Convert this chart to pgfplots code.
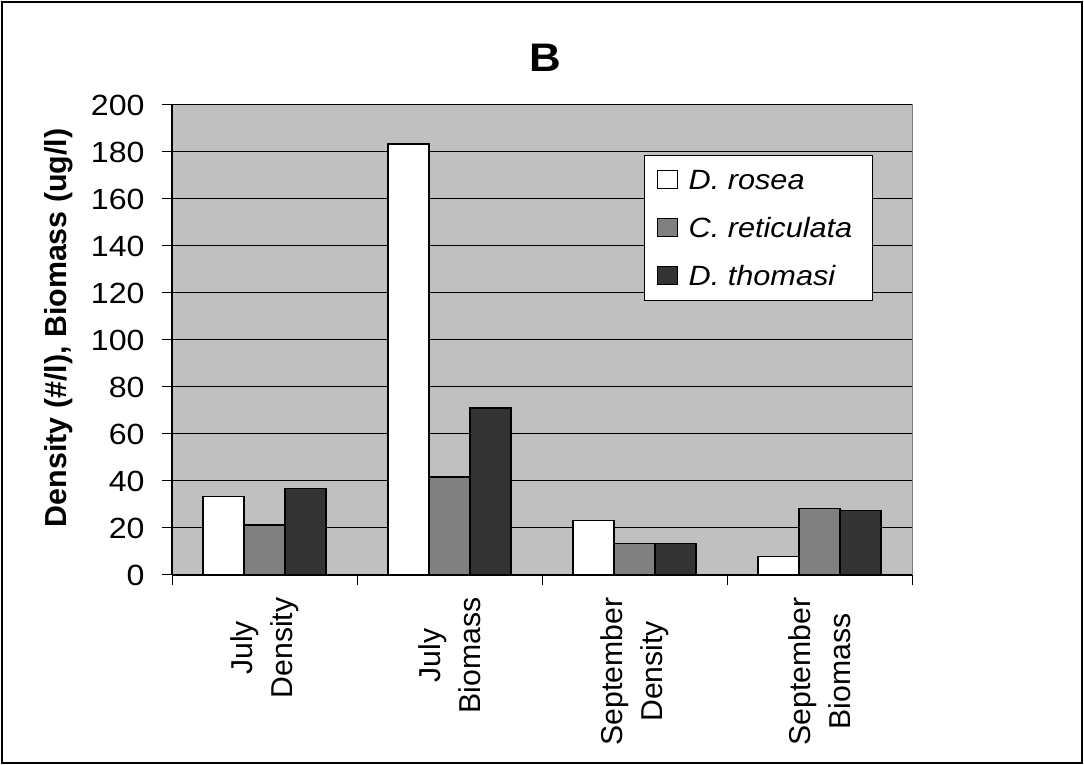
\documentclass[border=0pt]{standalone}
\usepackage{fontspec}
\setmainfont[FakeStretch=1.1]{Liberation Sans}
\newfontfamily\plainfont{Liberation Sans}
\usepackage{pgfplots}
\pgfplotsset{compat=1.18}
\definecolor{plotbg}{RGB}{192,192,192}
\definecolor{midbar}{RGB}{128,128,128}
\definecolor{darkbar}{RGB}{51,51,51}

\begin{document}
\begin{tikzpicture}[x=1bp,y=1bp]
\useasboundingbox (0,0) rectangle (1084,765);
\draw[line width=1.2bp] (2,2) rectangle (1082,763);
\begin{axis}[
  at={(172bp,190bp)}, anchor=south west,
  scale only axis, width=740bp, height=470bp,
  xmin=-0.5, xmax=3.5, ymin=0, ymax=200,
  ybar=0pt, bar width=41bp,
  axis background/.style={fill=plotbg, draw=midbar, line width=1bp},
  axis x line*=bottom, axis y line*=left,
  axis line style={-, black, line width=1.2bp},
  ytick={0,20,...,200},
  xtick={0,1,2,3},
  xticklabels={{July\\Density},{July\\Biomass},{September\\Density},{September\\Biomass}},
  minor xtick={-0.5,0.5,1.5,2.5,3.5},
  every major x tick/.append style={draw=none},
  every minor x tick/.append style={black, line width=1bp},
  every major y tick/.append style={black, line width=1bp},
  tick align=outside, major tick length=10bp, minor tick length=10bp,
  ymajorgrids, major grid style={black, line width=1bp},
  /pgf/number format/assume math mode=true,
  yticklabel shift=14bp,
  yticklabel style={font=\fontsize{29.3}{35}\selectfont},
  xticklabel shift=9bp,
  xticklabel style={rotate=90, anchor=east, align=center,
    font=\plainfont\fontsize{30.3}{40}\selectfont},
  ylabel={Density (\#/l), Biomass (ug/l)},
  ylabel style={at={(axis description cs:-0.153,0.526)}, anchor=center,
    font=\plainfont\fontsize{30.5}{36}\selectfont\bfseries},
  title={B},
  title style={at={(axis description cs:0.505,1.088)}, anchor=center,
    font=\fontsize{40}{46}\selectfont\bfseries},
  legend image code/.code={\draw[#1, line width=1bp] (0bp,-9bp) rectangle (20bp,9bp);},
  legend style={at={(rel axis cs:0.638,0.894)}, anchor=north west,
    draw=black, line width=1bp, fill=white,
    font=\fontsize{28}{34}\selectfont\itshape,
    inner xsep=12bp, inner ysep=15bp, row sep=29bp, column sep=11bp,
    nodes={inner xsep=0bp, inner ysep=0bp, text height=19bp, text depth=0bp}},
  legend cell align=left,
]
\addplot[draw=black, line width=1.5bp, fill=white]
  coordinates {(0,33.3) (1,183.5) (2,23.2) (3,7.8)};
\addplot[draw=black, line width=1.5bp, fill=midbar]
  coordinates {(0,21.2) (1,41.7) (2,13.5) (3,28.2)};
\addplot[draw=black, line width=1.5bp, fill=darkbar]
  coordinates {(0,36.9) (1,71.0) (2,13.5) (3,27.5)};
\legend{D. rosea, {C. reticulata\rule{8bp}{0bp}}, D. thomasi}
\end{axis}
\end{tikzpicture}
\end{document}
